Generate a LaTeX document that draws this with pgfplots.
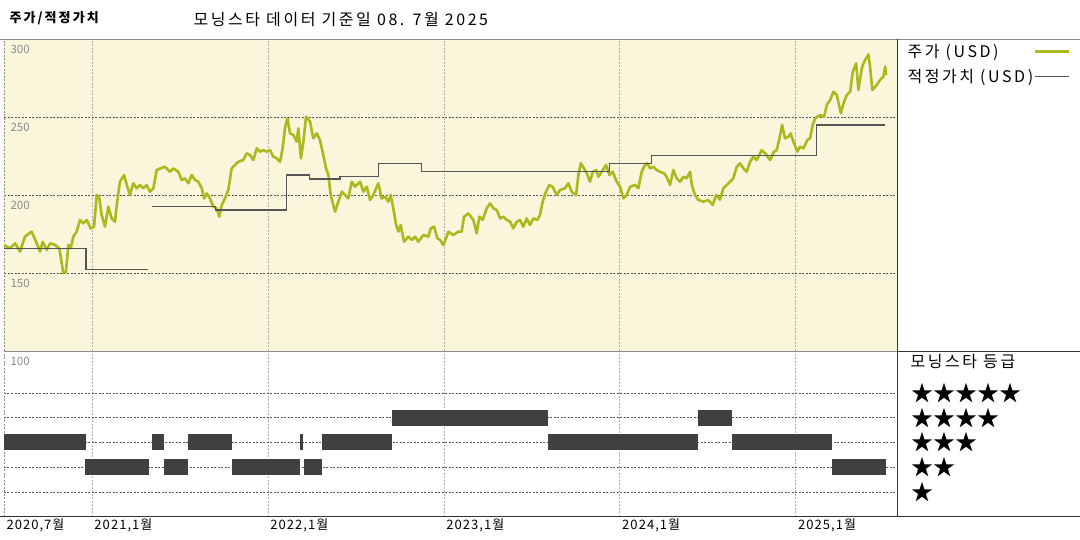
\documentclass[border=0pt]{standalone}
\usepackage{fontspec}
\setmainfont{Noto Sans CJK KR}
\newfontfamily\krwide[LetterSpace=16]{Noto Sans CJK KR}
\newfontfamily\krtick[LetterSpace=8]{Noto Sans CJK KR}
\usepackage{pgfplots}
\pgfplotsset{compat=1.18}

\definecolor{panelbg}{HTML}{FAF6DC}
\definecolor{pricegreen}{HTML}{A8BA1E}
\definecolor{fairgray}{HTML}{555555}
\definecolor{gridgray}{HTML}{8A8A8A}
\definecolor{griddark}{HTML}{555555}
\definecolor{barcol}{HTML}{404040}

% price (decimal year, USD)
\pgfplotstableread{
x y
2020.500 167.9
2020.534 165.8
2020.563 169.0
2020.591 163.7
2020.619 173.3
2020.657 176.5
2020.686 169.0
2020.705 163.7
2020.720 170.0
2020.743 164.7
2020.762 169.0
2020.790 168.0
2020.814 165.8
2020.824 159.4
2020.837 149.8
2020.852 150.8
2020.866 168.0
2020.879 165.8
2020.894 173.3
2020.913 176.5
2020.932 184.0
2020.951 181.8
2020.970 184.0
2020.993 178.6
2021.012 179.7
2021.027 200.0
2021.042 197.9
2021.055 187.2
2021.074 179.7
2021.093 192.5
2021.112 185.0
2021.131 182.9
2021.141 193.6
2021.159 208.5
2021.182 212.8
2021.198 206.4
2021.216 200.0
2021.235 207.5
2021.254 204.3
2021.273 206.4
2021.292 204.3
2021.311 206.4
2021.330 202.1
2021.349 204.3
2021.368 216.0
2021.387 217.0
2021.415 218.1
2021.444 214.9
2021.462 217.0
2021.491 214.9
2021.510 209.6
2021.529 210.7
2021.548 207.5
2021.567 212.8
2021.586 209.6
2021.605 208.5
2021.624 204.3
2021.637 197.8
2021.652 201.0
2021.671 197.8
2021.690 192.5
2021.709 191.5
2021.724 186.1
2021.738 193.6
2021.756 197.8
2021.775 203.2
2021.794 217.0
2021.813 219.2
2021.832 221.3
2021.860 222.4
2021.880 226.7
2021.899 225.6
2021.917 222.4
2021.937 229.9
2021.955 227.8
2021.974 228.8
2021.993 227.8
2022.012 228.8
2022.031 224.6
2022.050 223.5
2022.069 221.3
2022.084 229.9
2022.097 242.7
2022.111 249.1
2022.126 239.5
2022.145 238.5
2022.164 234.2
2022.173 242.7
2022.188 223.5
2022.202 234.2
2022.217 250.2
2022.240 247.0
2022.258 236.3
2022.278 239.5
2022.296 235.3
2022.315 225.6
2022.331 217.0
2022.344 212.8
2022.357 200.0
2022.382 189.3
2022.400 195.7
2022.420 202.1
2022.439 200.0
2022.457 197.8
2022.477 208.5
2022.495 205.3
2022.524 208.5
2022.543 202.1
2022.562 205.3
2022.581 196.8
2022.599 200.0
2022.628 207.5
2022.647 197.8
2022.666 198.9
2022.685 195.7
2022.698 200.0
2022.713 191.5
2022.729 180.8
2022.742 176.5
2022.755 180.8
2022.774 170.0
2022.798 173.3
2022.818 171.2
2022.837 173.3
2022.855 170.0
2022.884 174.4
2022.912 173.3
2022.926 178.6
2022.945 179.7
2022.963 172.2
2022.979 171.2
2022.997 167.9
2023.013 172.2
2023.026 176.5
2023.054 174.4
2023.083 176.5
2023.102 176.5
2023.115 186.1
2023.140 188.2
2023.168 184.0
2023.187 175.4
2023.202 186.1
2023.221 184.0
2023.244 191.5
2023.263 194.6
2023.282 191.5
2023.301 190.4
2023.320 185.0
2023.339 186.1
2023.358 184.0
2023.377 182.9
2023.395 178.6
2023.415 182.9
2023.433 184.0
2023.452 179.7
2023.472 185.0
2023.490 180.8
2023.509 185.0
2023.532 184.0
2023.547 187.2
2023.562 195.7
2023.581 202.1
2023.600 206.4
2023.619 205.3
2023.642 200.0
2023.661 203.2
2023.689 204.3
2023.708 207.5
2023.727 202.1
2023.752 200.0
2023.765 212.8
2023.779 220.3
2023.797 217.0
2023.813 213.9
2023.831 208.5
2023.847 214.9
2023.866 216.0
2023.879 211.7
2023.898 214.9
2023.922 219.2
2023.941 212.8
2023.960 214.9
2023.983 208.5
2024.002 205.3
2024.021 197.8
2024.040 200.0
2024.059 205.3
2024.087 206.4
2024.106 204.3
2024.125 214.9
2024.144 219.2
2024.157 220.3
2024.173 217.0
2024.191 218.1
2024.211 216.0
2024.229 214.9
2024.252 213.9
2024.267 211.7
2024.286 206.4
2024.305 216.0
2024.324 210.7
2024.343 208.5
2024.362 211.7
2024.381 210.7
2024.400 214.9
2024.410 206.4
2024.428 200.0
2024.447 196.8
2024.476 195.7
2024.504 196.8
2024.529 193.6
2024.548 200.0
2024.570 197.0
2024.589 204.3
2024.609 206.4
2024.627 208.5
2024.646 210.7
2024.665 218.1
2024.684 220.3
2024.703 217.0
2024.722 214.9
2024.741 221.3
2024.760 224.6
2024.779 222.4
2024.807 228.8
2024.826 226.7
2024.855 222.4
2024.877 227.8
2024.893 228.8
2024.908 236.3
2024.923 244.9
2024.940 236.3
2024.959 237.4
2024.972 239.5
2024.987 234.2
2025.010 227.8
2025.025 231.0
2025.044 229.9
2025.067 235.3
2025.082 236.3
2025.097 244.9
2025.111 249.1
2025.139 251.3
2025.162 250.2
2025.177 257.7
2025.196 260.9
2025.215 266.2
2025.234 264.1
2025.257 252.4
2025.275 259.8
2025.291 264.1
2025.310 266.2
2025.325 279.0
2025.344 284.4
2025.357 267.3
2025.376 281.2
2025.389 285.4
2025.414 290.1
2025.423 282.3
2025.436 267.3
2025.461 270.5
2025.480 273.7
2025.499 275.9
2025.509 282.3
2025.514 276.9
}\price

\pgfplotsset{
  panel/.style={
    scale only axis, width=893.3pt,
    xmin=2020.5, xmax=2025.578,
    xtick={2020.5,2021,2022,2023,2024,2025},
    xmajorgrids, ymajorgrids,
    x grid style={gridgray!70, line width=0.5pt, dash pattern=on 2pt off 1.5pt},
    y grid style={griddark, line width=0.6pt, dash pattern=on 2pt off 1.5pt},
    axis line style={gridgray, line width=0.6pt, dash pattern=on 2pt off 1.5pt},
    major tick length=0pt, tick style={draw=none},
    /pgf/number format/assume math mode=true,
  },
}

\begin{document}
\begin{tikzpicture}
\useasboundingbox (0,0) rectangle (1080pt,540pt);

% price and fair value
\begin{axis}[panel,
  at={(4pt,189pt)}, anchor=south west, height=312pt,
  ymin=100, ymax=300,
  ytick={100,150,200,250,300},
  yticklabels={100,150,200,250,300},
  yticklabel style={anchor=north west, xshift=3pt, yshift=-3pt, text=gridgray,
    font=\fontsize{11.5}{12}\selectfont},
  xticklabels={,,,,,},
  axis background/.style={fill=panelbg},
  clip=false,
  legend style={at={(axis description cs:1,1)}, anchor=north west,
    xshift=9pt, yshift=-4pt, draw=none, fill=none, inner sep=0pt,
    font=\krwide\fontsize{16}{18}\selectfont, row sep=8pt,
    nodes={inner sep=1pt}},
  legend cell align=left, legend plot pos=right,
  legend image code/.code={\draw[#1] (2pt,0pt) -- (36pt,0pt);},
]
\addplot[pricegreen, line width=2.6pt, line join=round] table[x=x, y=y] {\price};
\addlegendentry{주가 (USD)}
\addplot[fairgray, line width=1.2pt, const plot, forget plot] coordinates {
  (2020.500,165.8) (2020.966,152.4) (2021.320,152.4)
};
\addplot[fairgray, line width=1.2pt, const plot] coordinates {
  (2021.340,192.5) (2021.700,190.4) (2022.107,212.8) (2022.236,210.3)
  (2022.410,211.7) (2022.628,220.3) (2022.871,214.9) (2023.941,220.3)
  (2024.182,225.1) (2025.120,244.9) (2025.508,244.9)
};
\addlegendentry{적정가치 (USD)}
\end{axis}

% star rating
\begin{axis}[panel,
  at={(4pt,23.3pt)}, anchor=south west, height=165.7pt,
  ymin=0, ymax=6.69,
  ytick={1,2,3,4,5}, yticklabels={,,,,},
  xticklabels={{2020,7월},{2021,1월},{2022,1월},{2023,1월},{2024,1월},{2025,1월}},
  xticklabel style={anchor=north west, xshift=-1pt, yshift=1pt,
    font=\krtick\fontsize{13}{14}\selectfont},
  unbounded coords=jump,
]
\addplot[barcol, line width=16pt] coordinates {
  (2022.704,4) (2023.591,4) (2023.600,nan)
  (2024.447,4) (2024.640,4)
};
\addplot[barcol, line width=16pt] coordinates {
  (2020.500,3) (2020.966,3) (2021.000,nan)
  (2021.340,3) (2021.410,3) (2021.450,nan)
  (2021.546,3) (2021.798,3) (2021.900,nan)
  (2022.183,3) (2022.202,3) (2022.250,nan)
  (2022.308,3) (2022.704,3) (2023.000,nan)
  (2023.591,3) (2024.447,3) (2024.500,nan)
  (2024.637,3) (2025.206,3)
};
\addplot[barcol, line width=16pt] coordinates {
  (2020.962,2) (2021.324,2) (2021.350,nan)
  (2021.411,2) (2021.544,2) (2021.600,nan)
  (2021.798,2) (2022.183,2) (2022.190,nan)
  (2022.206,2) (2022.310,2) (2022.500,nan)
  (2025.206,2) (2025.513,2)
};
\end{axis}

% frame lines
\draw[gridgray, line width=0.6pt] (0,501pt) -- (1080pt,501pt);
\draw[black!80, line width=0.8pt] (897.3pt,23.3pt) -- (897.3pt,501pt);
\draw[black!80, line width=0.8pt] (897.3pt,189pt) -- (1080pt,189pt);
\draw[black!80, line width=0.8pt] (0,23.3pt) -- (1080pt,23.3pt);

% titles
\node[anchor=west, font=\krwide\fontsize{13}{14}\selectfont\bfseries] at (6pt,522pt) {주가/적정가치};
\node[anchor=west, font=\krwide\fontsize{16}{17}\selectfont] at (190pt,520pt) {모닝스타 데이터 기준일 08. 7월 2025};

% rating legend
\node[anchor=west, font=\krwide\fontsize{16}{18}\selectfont] at (907pt,178pt) {모닝스타 등급};
\begin{scope}[every node/.style={anchor=west, inner sep=0pt, font=\fontsize{22}{22}\selectfont}]
\node at (911pt,147.3pt) {★★★★★};
\node at (911pt,122.3pt) {★★★★};
\node at (911pt,97.7pt) {★★★};
\node at (911pt,73pt) {★★};
\node at (911pt,48.3pt) {★};
\end{scope}
\end{tikzpicture}
\end{document}
